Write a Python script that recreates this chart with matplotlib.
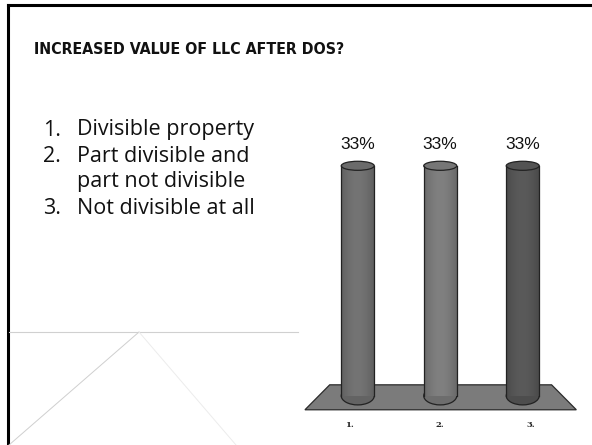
import numpy as np
import matplotlib.pyplot as plt
from matplotlib.colors import to_rgb
from matplotlib.patches import Ellipse, Polygon

# poll results
categories = ['1.', '2.', '3.']
values = [33, 33, 33]
bar_colors = ['#747474', '#808080', '#5a5a5a']
answer_nums = ['1.', '2.', '', '3.']
answer_lines = ['Divisible property', 'Part divisible and',
                'part not divisible', 'Not divisible at all']

W, H = 592, 445
fig = plt.figure(figsize=(W / 100, H / 100), dpi=100)
fig.patch.set_facecolor('white')

# slide frame and background lines (pixel coords, y from top)
bg = fig.add_axes([0, 0, 1, 1])
bg.set_xlim(0, W)
bg.set_ylim(H, 0)
bg.axis('off')
bg.plot([8, 8], [5, H], color='black', lw=2.2)
bg.plot([8, W], [5, 5], color='black', lw=2.2)
bg.plot([9, 298], [332, 332], color='#d0d0d0', lw=0.8)
bg.plot([9, 139], [445, 332], color='#cfcfcf', lw=0.7)
bg.plot([139, 236], [332, 445], color='#ececec', lw=0.7)

bg.text(34, 50, 'INCREASED VALUE OF LLC AFTER DOS?', fontsize=11.4,
        fontweight='bold', fontstretch='condensed', family='DejaVu Sans',
        va='center', ha='left', color='#111111')

body = dict(fontsize=15.5, family=['Open Sans', 'DejaVu Sans'],
            va='center', ha='left', color='#111111')
ys = [130, 157, 181, 208]
for n, t, y in zip(answer_nums, answer_lines, ys):
    if n:
        bg.text(43, y, n, **body)
    bg.text(77, y, t, **body)

# chart
ax = fig.add_axes([300 / W, 1 - 430 / H, 285 / W, 290 / H])
ax.set_xlim(-0.70, 2.755)
ax.set_ylim(-4.9, 36.7)
ax.axis('off')

x = np.arange(len(values))
# floor
floor = Polygon([[-0.64, -2.0], [2.65, -2.0], [2.35, 1.58], [-0.34, 1.58]],
                closed=True, facecolor='#7b7b7b', edgecolor='#2a2a2a', lw=0.9, zorder=1)
ax.add_patch(floor)

bw = 0.40
cap_h = 1.3
for xi, v, c, lab in zip(x, values, bar_colors, categories):
    bars = ax.bar(xi, v, width=bw, color=c, zorder=2, linewidth=0)
    rect = bars[0]
    # horizontal shading across the cylinder
    base = np.array(to_rgb(c))
    t = np.linspace(-1, 1, 64)
    shade = 0.8 + 0.2 * np.cos(t * np.pi / 2.2)
    img = np.clip(base[None, :] * shade[:, None], 0, 1)[None, :, :]
    im = ax.imshow(img, extent=[xi - bw / 2, xi + bw / 2, 0, v],
                   aspect='auto', zorder=3, interpolation='bilinear')
    im.set_clip_path(rect)
    # bottom and top caps
    ax.add_patch(Ellipse((xi, 0), bw, cap_h * 2, facecolor=base * 0.85,
                         edgecolor='#222222', lw=0.9, zorder=2.5))
    ax.add_patch(Ellipse((xi, v), bw, cap_h * 1.0, facecolor=base * 0.92,
                         edgecolor='#222222', lw=0.9, zorder=4))
    ax.plot([xi - bw / 2, xi - bw / 2], [0, v], color='#222222', lw=0.9, zorder=4)
    ax.plot([xi + bw / 2, xi + bw / 2], [0, v], color='#222222', lw=0.9, zorder=4)
    ax.text(xi, v + 3.0, f'{v}%', ha='center', va='center', fontsize=12.5,
            family=['Liberation Sans', 'DejaVu Sans'], color='#111111')
    ax.text(xi - 0.1 + 0.1 * xi, -4.2, lab, ha='center', va='center', fontsize=6,
            fontweight='bold', family=['DejaVu Serif'], color='#222222')

fig.savefig('out.png', dpi=100)
